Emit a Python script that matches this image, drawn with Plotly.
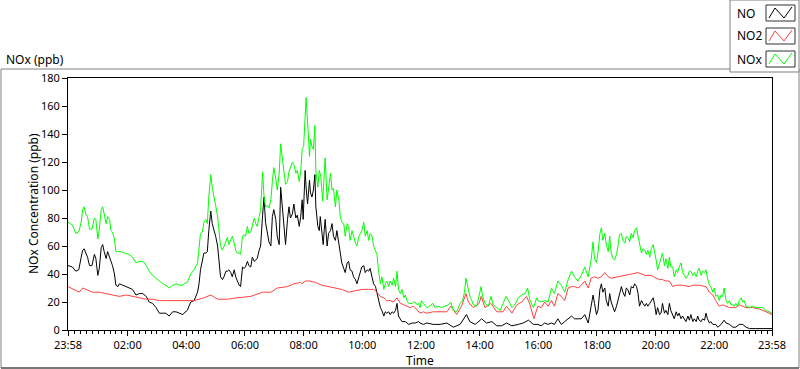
import pandas as pd
import plotly.graph_objects as go

# ---------------- data (minutes after 23:58 start, ppb) ----------------
no_min = [0, 9, 16, 22, 27, 30, 33, 37, 40, 44, 49, 54, 57, 61, 64, 68, 71, 74, 78, 81, 85, 88, 91, 95, 98, 102, 105, 112, 119, 125, 132, 139, 146, 153, 160, 166, 173, 180, 187, 194, 200, 207, 214, 221, 228, 235,
          237, 244, 251, 258, 265, 268, 271, 275, 278, 282, 285, 288, 292, 295, 299, 302, 306, 309, 312, 316, 319, 323, 326, 329, 333, 336, 340, 343, 346, 350, 353, 357, 360, 363, 367, 370, 374, 377, 381, 384, 387, 391, 394, 398, 401, 404, 408, 411, 415, 418, 421, 425, 428, 432, 435, 438, 442, 445, 449, 452, 455, 459, 462, 466, 469, 473, 476,
          479, 481, 483, 485, 487, 490, 494, 496, 499, 502, 505, 507, 511, 514, 516, 519, 522, 524, 526, 530, 533, 537, 540, 543, 547, 550, 554, 557, 560, 564, 567, 571, 574, 577, 581, 584, 588, 591, 595, 598, 601, 605, 608, 612, 615, 618, 622, 625, 629, 632, 635, 639, 642, 646, 649, 652, 656, 659, 663, 666, 670, 673, 676, 680, 683, 690, 697, 704, 710, 717,
          720, 727, 734, 747, 761, 775, 788, 802, 812, 815, 822, 833, 843, 846, 856, 867, 877, 887, 897, 908, 921, 931, 942, 952,
          961, 968, 975, 982, 989, 995, 1002, 1009, 1016, 1023, 1030, 1036, 1043, 1050, 1057, 1064, 1070, 1074, 1077, 1081, 1084, 1088, 1091, 1094, 1098, 1101, 1105, 1108, 1111, 1115, 1118, 1122, 1125, 1128, 1132, 1135, 1139, 1142, 1145, 1149, 1152, 1156, 1159, 1163, 1166, 1169, 1173, 1176, 1180, 1183, 1186, 1190, 1193, 1197, 1200,
          1203, 1206, 1210, 1213, 1216, 1220, 1223, 1227, 1230, 1233, 1237, 1240, 1244, 1247, 1250, 1254, 1257, 1261, 1264, 1268, 1271, 1274, 1278, 1281, 1285, 1288, 1291, 1295, 1298, 1302, 1305, 1308, 1312, 1315, 1319, 1325, 1329, 1336, 1342, 1346, 1353, 1360, 1366, 1373, 1380, 1387, 1394, 1407, 1421, 1435, 1440]
no_ppb = [46, 45, 42, 43, 52, 57, 58, 54, 52, 46, 46, 54, 51, 39, 44, 59, 61, 56, 51, 56, 52, 48, 46, 40, 32, 31, 33, 32, 31, 30, 29, 25, 26, 26, 24, 20, 19, 16, 12, 12, 12, 10, 13, 13, 12, 11,
          12, 14, 20, 21, 27, 33, 43, 51, 55, 55, 56, 71, 85, 76, 71, 67, 60, 48, 38, 36, 38, 42, 42, 43, 41, 38, 43, 38, 35, 32, 31, 45, 44, 45, 49, 46, 45, 52, 49, 50, 51, 57, 60, 82, 95, 77, 67, 63, 60, 81, 86, 79, 67, 61, 102, 90, 71, 61, 79, 88, 80, 83, 90, 80, 82, 74, 81,
          93, 79, 105, 114, 102, 90, 107, 98, 95, 100, 111, 88, 74, 71, 81, 71, 61, 71, 79, 60, 69, 71, 76, 67, 64, 71, 60, 55, 48, 43, 41, 48, 49, 43, 42, 38, 36, 33, 38, 42, 45, 46, 41, 43, 42, 44, 38, 33, 31, 26, 23, 16, 14, 10, 13, 12, 13, 11, 13, 12, 14, 19, 10, 7, 6, 6, 4, 5, 5, 6,
          5, 4, 5, 4, 4, 5, 2, 4, 10, 11, 6, 4, 7, 8, 5, 6, 3, 3, 5, 3, 4, 5, 7, 4,
          4, 3, 5, 4, 5, 4, 8, 4, 6, 8, 10, 8, 8, 8, 11, 5, 17, 25, 19, 11, 14, 29, 33, 27, 30, 21, 17, 26, 20, 16, 13, 17, 21, 27, 31, 27, 24, 30, 29, 25, 31, 30, 33, 31, 26, 17, 21, 19, 17, 19, 17, 19, 21, 23, 18,
          11, 16, 11, 12, 19, 12, 14, 11, 19, 14, 11, 8, 13, 10, 12, 8, 10, 7, 6, 10, 7, 11, 6, 8, 6, 10, 7, 6, 8, 7, 12, 8, 5, 6, 4, 4, 2, 4, 7, 5, 4, 2, 2, 4, 4, 2, 1, 1, 1, 1, 1]

no2_min = [0, 13, 23, 30, 37, 50, 64, 78, 91, 105, 119, 132, 146, 160, 173, 187, 200, 214, 228,
           237, 258, 278, 292, 306, 326, 346, 374, 398, 415, 428, 449, 462, 476,
           479, 485, 494, 506, 519, 533, 547, 560, 574, 588, 601, 615, 625, 632, 639, 646, 652, 659, 666, 673, 680, 687, 693, 700, 707, 714,
           720, 727, 734, 747, 761, 775, 783, 795, 805, 814, 819, 829, 841, 845, 853, 865, 877, 890, 897, 908, 918, 928, 938, 945, 953,
           961, 968, 975, 982, 989, 995, 1002, 1009, 1016, 1023, 1030, 1036, 1043, 1050, 1057, 1064, 1070, 1077, 1084, 1091, 1098, 1105, 1111, 1125, 1139, 1152, 1166, 1180, 1193,
           1203, 1210, 1216, 1223, 1230, 1237, 1244, 1257, 1271, 1278, 1291, 1305, 1312, 1319, 1325, 1332, 1339, 1346, 1353, 1360, 1366, 1373, 1380, 1387, 1400, 1414, 1428, 1440]
no2_ppb = [31, 29, 27, 30, 29, 27, 27, 26, 25, 24, 25, 24, 23, 22, 22, 21, 21, 21, 21,
           21, 21, 23, 25, 22, 22, 23, 24, 27, 27, 30, 31, 33, 34,
           33, 35, 35, 34, 32, 31, 30, 29, 27, 28, 29, 29, 29, 27, 24, 23, 21, 21, 20, 23, 19, 18, 17, 16, 17, 14,
           12, 13, 12, 13, 13, 13, 17, 11, 17, 26, 20, 16, 19, 24, 16, 19, 13, 13, 17, 12, 18, 20, 24, 18, 8,
           17, 16, 20, 17, 21, 17, 26, 24, 21, 30, 31, 31, 30, 32, 35, 30, 37, 38, 37, 38, 41, 38, 37, 38, 39, 40, 41, 39, 39,
           37, 36, 36, 35, 35, 31, 32, 32, 31, 32, 32, 31, 27, 25, 21, 17, 18, 17, 16, 16, 16, 18, 17, 16, 16, 15, 13, 11]

nox_min = [0, 9, 16, 22, 27, 30, 33, 37, 40, 44, 49, 54, 57, 61, 64, 68, 71, 74, 78, 81, 85, 88, 91, 95, 98, 104, 108, 115, 125, 132, 139, 146, 153, 160, 166, 173, 180, 187, 194, 200, 207, 214, 221, 228, 235,
           237, 244, 251, 258, 265, 268, 271, 275, 278, 282, 285, 288, 292, 295, 299, 302, 306, 309, 312, 316, 319, 323, 326, 329, 333, 336, 340, 343, 346, 350, 353, 357, 360, 363, 367, 370, 374, 377, 381, 384, 387, 391, 394, 398, 401, 404, 408, 411, 415, 418, 421, 425, 428, 432, 435, 438, 442, 445, 449, 452, 455, 459, 462, 466, 469, 473, 476,
           479, 482, 485, 487, 491, 494, 496, 499, 502, 505, 507, 511, 514, 517, 521, 524, 526, 530, 533, 537, 540, 543, 547, 550, 554, 557, 560, 564, 567, 571, 574, 577, 581, 584, 588, 591, 595, 598, 601, 605, 608, 612, 615, 618, 622, 625, 629, 632, 635, 639, 642, 646, 649, 652, 656, 659, 663, 666, 670, 673, 676, 680, 683, 687, 690, 693, 697, 700, 704, 707, 710, 714, 717,
           720, 723, 727, 734, 740, 746, 751, 757, 764, 771, 778, 783, 788, 795, 802, 807, 811, 814, 817, 822, 826, 829, 836, 841, 845, 848, 853, 860, 865, 870, 877, 884, 890, 896, 901, 908, 914, 921, 928, 935, 940, 945, 952, 959,
           961, 968, 975, 982, 989, 995, 1002, 1009, 1016, 1023, 1030, 1036, 1043, 1050, 1057, 1064, 1070, 1074, 1077, 1081, 1084, 1088, 1091, 1094, 1098, 1101, 1105, 1108, 1111, 1115, 1118, 1122, 1125, 1128, 1132, 1135, 1139, 1142, 1145, 1149, 1152, 1156, 1159, 1163, 1166, 1169, 1173, 1176, 1180, 1183, 1186, 1190, 1193, 1197, 1200,
           1203, 1206, 1210, 1213, 1216, 1220, 1223, 1227, 1230, 1233, 1237, 1240, 1244, 1247, 1250, 1254, 1257, 1261, 1264, 1268, 1271, 1274, 1278, 1281, 1285, 1288, 1291, 1295, 1298, 1302, 1305, 1308, 1312, 1315, 1319, 1322, 1325, 1329, 1332, 1336, 1339, 1342, 1346, 1349, 1353, 1356, 1360, 1363, 1366, 1370, 1373, 1377, 1380, 1383, 1387, 1394, 1400, 1407, 1414, 1421, 1428, 1435, 1440]
nox_ppb = [77, 75, 69, 70, 77, 86, 88, 82, 81, 72, 72, 80, 79, 65, 72, 86, 88, 82, 76, 81, 79, 71, 70, 65, 56, 56, 56, 55, 54, 52, 48, 49, 49, 46, 42, 39, 37, 35, 33, 32, 30, 32, 33, 32, 32,
           33, 34, 40, 43, 48, 57, 69, 70, 77, 79, 76, 95, 111, 102, 93, 89, 81, 67, 60, 57, 60, 63, 66, 61, 64, 67, 62, 57, 55, 55, 54, 67, 68, 67, 74, 69, 70, 74, 80, 76, 74, 81, 86, 113, 95, 88, 89, 87, 93, 106, 116, 108, 100, 112, 133, 124, 113, 104, 106, 113, 116, 120, 118, 112, 114, 106, 113,
           129, 131, 148, 166, 143, 124, 136, 131, 129, 146, 114, 102, 114, 110, 92, 110, 123, 93, 100, 112, 100, 101, 88, 100, 93, 81, 77, 76, 67, 76, 74, 64, 71, 67, 62, 60, 67, 69, 71, 77, 67, 71, 64, 69, 67, 60, 57, 54, 43, 33, 38, 29, 33, 35, 31, 35, 32, 37, 31, 42, 29, 26, 29, 23, 25, 21, 19, 19, 19, 20, 20, 18, 19,
           16, 21, 19, 16, 17, 19, 16, 17, 16, 17, 18, 20, 14, 13, 19, 21, 27, 37, 31, 24, 21, 18, 17, 24, 31, 24, 19, 17, 24, 18, 16, 14, 19, 24, 21, 16, 18, 23, 25, 26, 30, 21, 16, 23,
           21, 20, 21, 20, 30, 26, 35, 32, 27, 36, 42, 38, 35, 39, 45, 38, 50, 63, 51, 48, 55, 69, 73, 64, 69, 61, 56, 67, 55, 51, 50, 54, 60, 68, 69, 64, 62, 67, 66, 63, 69, 66, 71, 73, 67, 61, 55, 58, 57, 54, 57, 52, 58, 61, 56,
           50, 43, 48, 51, 55, 46, 51, 44, 52, 45, 45, 38, 43, 41, 45, 48, 41, 39, 37, 39, 42, 42, 39, 41, 38, 42, 44, 39, 42, 41, 43, 37, 32, 31, 27, 30, 24, 25, 21, 25, 24, 30, 21, 19, 21, 18, 18, 17, 19, 17, 21, 23, 20, 21, 17, 16, 17, 16, 16, 16, 14, 13, 12]

series_names = ["NO", "NO2", "NOx"]
series_colors = ["#000000", "#ff4040", "#00ff00"]
start_time = "2020-01-01 23:58"
major_labels = ["23:58", "02:00", "04:00", "06:00", "08:00", "10:00", "12:00",
                "14:00", "16:00", "18:00", "20:00", "22:00", "23:58"]
x_title = "Time"
y_title = "NOx Concentration (ppb)"
panel_label = "NOx (ppb)"

# ---------------- figure ----------------
W, H = 800, 369
L, R, T, B = 68, 772, 78, 330
FONT = "Noto Sans, Open Sans, DejaVu Sans, sans-serif"
TICK_SIZE = 11
TEXT_SIZE = 12


def px(x):
    return (x - L) / (R - L)


def py(y):
    return (B - y) / (B - T)


t0 = pd.Timestamp(start_time)


def to_time(mins):
    return t0 + pd.to_timedelta(mins, unit="min")


fig = go.Figure()
for name, mins, vals, col in zip(series_names,
                                 [no_min, no2_min, nox_min],
                                 [no_ppb, no2_ppb, nox_ppb],
                                 series_colors):
    fig.add_trace(go.Scatter(x=to_time(mins), y=vals, mode="lines", name=name,
                             line=dict(color=col, width=1), showlegend=False))

# major tick positions: start, even hours, end
day2 = t0.normalize() + pd.Timedelta(days=1)
major_vals = [t0] + [day2 + pd.Timedelta(hours=h) for h in range(2, 24, 2)] + [t0 + pd.Timedelta(days=1)]

fig.update_xaxes(
    range=[t0, t0 + pd.Timedelta(days=1)],
    tickmode="array", tickvals=major_vals, ticktext=major_labels,
    ticks="outside", ticklen=5, tickcolor="#000", tickwidth=1,
    minor=dict(tickmode="linear", tick0=day2, dtick=12 * 60 * 1000,
               ticks="outside", ticklen=3, tickcolor="#000", tickwidth=1, showgrid=False),
    showline=True, linecolor="#000", linewidth=1, mirror=True,
    showgrid=False, zeroline=False, automargin=False,
    tickfont=dict(family=FONT, size=TICK_SIZE, color="#000"),
)
fig.update_yaxes(
    range=[0, 180], tickmode="linear", tick0=0, dtick=20,
    ticks="outside", ticklen=5, tickcolor="#000", tickwidth=1,
    showline=True, linecolor="#000", linewidth=1, mirror=True,
    showgrid=False, zeroline=False, automargin=False,
    tickfont=dict(family=FONT, size=TICK_SIZE, color="#000"),
)

shapes = []
# outer frame
shapes.append(dict(type="rect", xref="paper", yref="paper",
                   x0=px(1), x1=px(799), y0=py(368), y1=py(69),
                   line=dict(color="#808080", width=1), layer="below"))
shapes.append(dict(type="line", xref="paper", yref="paper",
                   x0=px(1), x1=px(799), y0=py(368), y1=py(368),
                   line=dict(color="#303030", width=1)))
# legend box
shapes.append(dict(type="rect", xref="paper", yref="paper",
                   x0=px(730), x1=px(799), y0=py(72), y1=py(0),
                   fillcolor="#ffffff", line=dict(color="#808080", width=1)))

annotations = [
    dict(text=panel_label, xref="paper", yref="paper", x=px(4), y=py(59),
         xanchor="left", yanchor="middle", showarrow=False,
         font=dict(family=FONT, size=TEXT_SIZE, color="#000")),
    dict(text=x_title, xref="paper", yref="paper", x=px(420), y=py(360.5),
         xanchor="center", yanchor="middle", showarrow=False, borderpad=0,
         font=dict(family=FONT, size=TEXT_SIZE, color="#000")),
    dict(text=y_title, xref="paper", yref="paper", x=px(33), y=py(204),
         xanchor="center", yanchor="middle", textangle=-90, showarrow=False,
         font=dict(family=FONT, size=TEXT_SIZE, color="#000")),
]

legend_rows = [13, 36, 59]
for name, col, yc in zip(series_names, series_colors, legend_rows):
    annotations.append(dict(text=name, xref="paper", yref="paper", x=px(735), y=py(yc),
                            xanchor="left", yanchor="middle", showarrow=False,
                            font=dict(family=FONT, size=TEXT_SIZE, color="#000")))
    shapes.append(dict(type="rect", xref="paper", yref="paper",
                       x0=px(766), x1=px(795), y0=py(yc + 8), y1=py(yc - 8),
                       fillcolor="#ffffff", line=dict(color="#303030", width=1)))
    pts = [(769, yc + 5), (775, yc - 5), (784, yc + 5), (792, yc - 6)]
    path = "M " + " L ".join(f"{px(a):.5f},{py(b):.5f}" for a, b in pts)
    shapes.append(dict(type="path", xref="paper", yref="paper", path=path,
                       line=dict(color=col, width=1)))

fig.update_layout(
    width=W, height=H,
    margin=dict(l=L, r=W - R, t=T, b=H - B, pad=0, autoexpand=False),
    paper_bgcolor="#ffffff", plot_bgcolor="#ffffff",
    shapes=shapes, annotations=annotations, showlegend=False,
    font=dict(family=FONT, size=TEXT_SIZE, color="#000"),
)

fig.write_html("out.html", config={"displayModeBar": False},
               post_script="document.body.style.margin='0';document.body.style.overflow='hidden';")
